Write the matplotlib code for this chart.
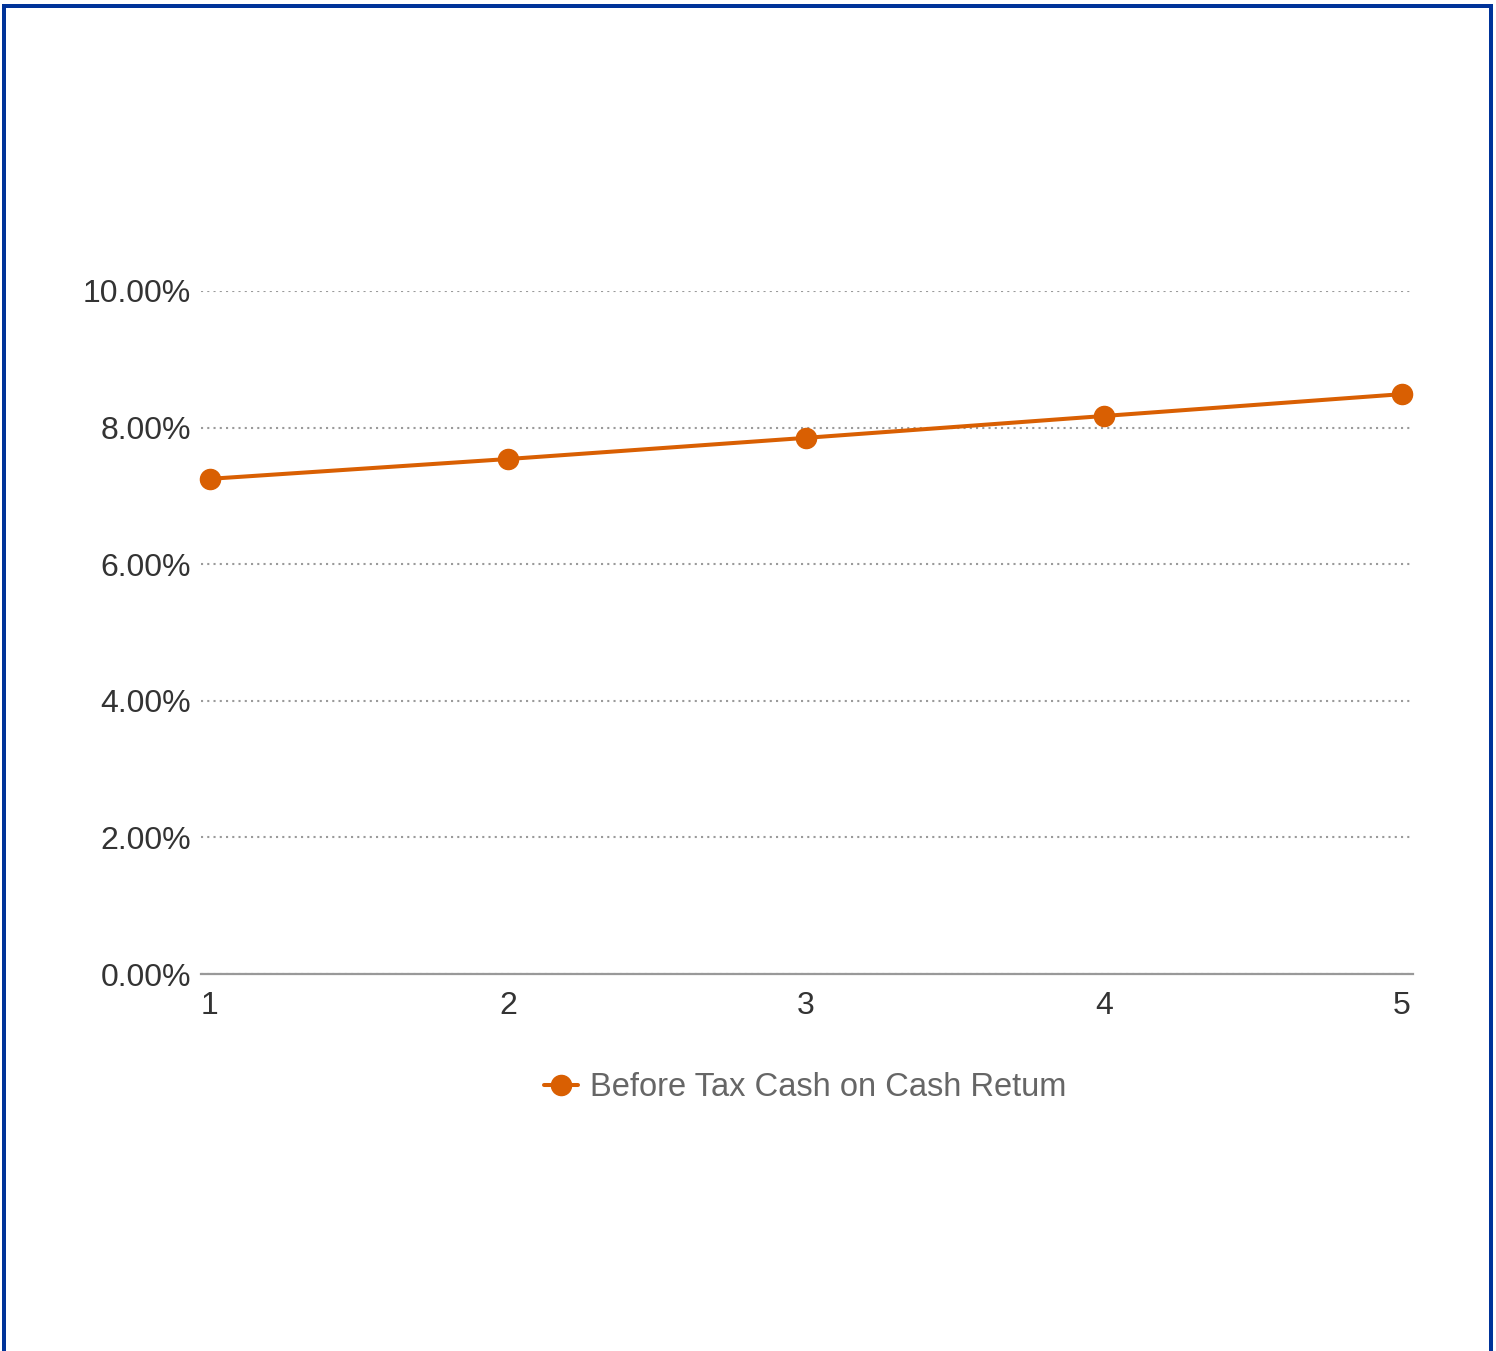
import matplotlib
matplotlib.use("Agg")
import matplotlib.pyplot as plt
from matplotlib.patches import Rectangle
from matplotlib.ticker import FuncFormatter

years = [1, 2, 3, 4, 5]
cash_on_cash = [7.25, 7.54, 7.85, 8.17, 8.49]
y_ticks = [0, 2, 4, 6, 8, 10]
series_name = "Before Tax Cash on Cash Retum"

W, H, DPI = 1496, 1351, 100
plt.rcParams["font.family"] = ["Liberation Sans", "DejaVu Sans"]

fig = plt.figure(figsize=(W / DPI, H / DPI), dpi=DPI)
fig.patch.set_facecolor("white")

# plot area in pixel coordinates
left, right, top, bottom = 201, 1413, 291, 974
ax = fig.add_axes([left / W, 1 - bottom / H, (right - left) / W, (bottom - top) / H])
ax.set_facecolor("none")

ax.set_xlim(0.97, 5.037)
ax.set_ylim(0, 10)
ax.set_yticks(y_ticks)
ax.set_xticks(years)
ax.yaxis.set_major_formatter(FuncFormatter(lambda v, p: f"{v:.2f}%"))

for s in ["top", "right", "left"]:
    ax.spines[s].set_visible(False)
ax.spines["bottom"].set_color("#999999")
ax.spines["bottom"].set_linewidth(1.6)

ax.grid(axis="y", linestyle=(0, (1, 2)), color="#9a9a9a", linewidth=1.5)
ax.tick_params(axis="both", length=0, labelsize=23, labelcolor="#333333")
ax.tick_params(axis="y", pad=7)
ax.tick_params(axis="x", pad=12)
for lbl in ax.get_yticklabels():
    lbl.set_verticalalignment("center_baseline")

line, = ax.plot(years, cash_on_cash, color="#D95F02", linewidth=2.9,
                marker="o", markersize=14.5, label=series_name,
                solid_capstyle="round", clip_on=False, zorder=3)

leg = fig.legend(handles=[line], loc="center", bbox_to_anchor=(805 / W, 1 - 1088 / H),
                 frameon=False, fontsize=23.5, labelcolor="#666666",
                 handlelength=1.05, handletextpad=0.35)

# blue frame around the chart
frame_kw = dict(transform=fig.transFigure, color="#003399", lw=0, clip_on=False)
fig.add_artist(Rectangle((2 / W, 0), 4 / W, 1 - 4 / H, **frame_kw))
fig.add_artist(Rectangle((1489 / W, 0), 4 / W, 1 - 4 / H, **frame_kw))
fig.add_artist(Rectangle((2 / W, 1 - 8 / H), 1491 / W, 4 / H, **frame_kw))

fig.savefig("out.png", dpi=DPI, facecolor="white")
